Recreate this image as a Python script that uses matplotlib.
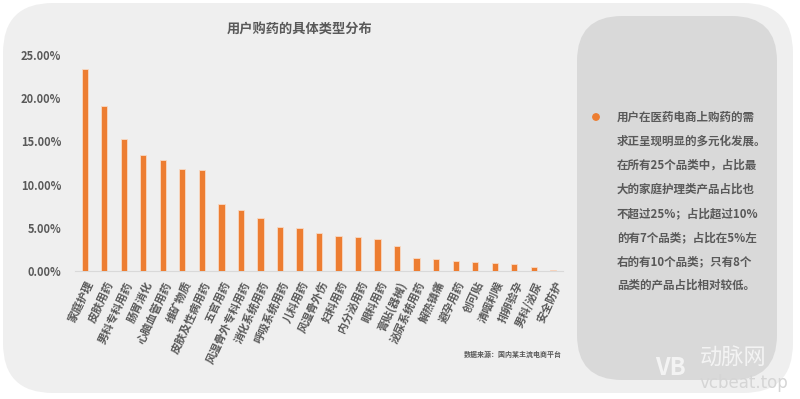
import matplotlib.pyplot as plt
from matplotlib.patches import FancyBboxPatch, Ellipse
from matplotlib.ticker import FuncFormatter

plt.rcParams['font.family'] = ['Noto Sans CJK SC', 'DejaVu Sans']

# Data
categories = ['家庭护理', '皮肤用药', '男科专科用药', '肠胃消化', '心脑血管用药', '维矿物质',
              '皮肤及性病用药', '五官用药', '风湿骨外专科用药', '消化系统用药', '呼吸系统用药',
              '儿科用药', '风湿骨外伤', '妇科用药', '内分泌用药', '眼科用药', '膏贴(器械)',
              '泌尿系统用药', '解热镇痛', '避孕用药', '创可贴', '清咽利喉', '排卵验孕',
              '男科/泌尿', '安全防护']
shares = [23.4, 19.1, 15.3, 13.4, 12.9, 11.8, 11.65, 7.7, 7.1, 6.1, 5.1, 5.0, 4.45,
          4.0, 3.9, 3.7, 2.86, 1.5, 1.43, 1.2, 1.04, 0.97, 0.86, 0.46, 0.12]
yticks = [0, 5, 10, 15, 20, 25]
note_lines = ['用户在医药电商上购药的需', '求正呈现明显的多元化发展。', '在所有25个品类中，占比最',
              '大的家庭护理类产品占比也', '不超过25%；占比超过10%', '的有7个品类；占比在5%左',
              '右的有10个品类；只有8个', '品类的产品占比相对较低。']

TEXT = '#595959'
ORANGE = '#ed7d31'

fig = plt.figure(figsize=(8, 3.99), dpi=100)
fig.patch.set_facecolor('white')

# background panels (figure pixel coords)
W, H = 800, 399
def panel(x0, y0, x1, y1, r, color):
    p = FancyBboxPatch((x0 / W, 1 - y1 / H), (x1 - x0) / W, (y1 - y0) / H,
                       boxstyle='round,pad=0,rounding_size=%f' % (r / W),
                       transform=fig.transFigure, facecolor=color, edgecolor='none',
                       mutation_aspect=W / H, zorder=-2)
    fig.patches.append(p)

panel(3, 3, 793, 393, 50, '#efefef')
panel(577, 16, 777, 380, 45, '#d9d9d9')

ax = fig.add_axes([75 / W, 1 - 271 / H, 488 / W, 216 / H])
ax.set_facecolor('none')
x = range(len(categories))
ax.bar(x, shares, width=0.32, color=ORANGE, edgecolor='#f8d9c4', linewidth=0.6, zorder=3)

ax.set_xlim(-0.5, len(categories) - 0.5)
ax.set_ylim(0, 25)
ax.set_yticks(yticks)
ax.yaxis.set_major_formatter(FuncFormatter(lambda v, p: '%.2f%%' % v))
ax.set_xticks(list(x))
ax.set_xticklabels(categories, rotation=65, ha='right', va='top', rotation_mode='anchor')
for lab in ax.get_xticklabels():
    lab.set_fontsize(8)
    lab.set_fontweight('bold')
    lab.set_color(TEXT)
for lab in ax.get_yticklabels():
    lab.set_fontsize(8)
    lab.set_fontweight('bold')
    lab.set_color(TEXT)
ax.tick_params(axis='both', length=0)
ax.tick_params(axis='y', pad=10)
ax.tick_params(axis='x', pad=6)
for s in ['top', 'right', 'left']:
    ax.spines[s].set_visible(False)
ax.spines['bottom'].set_color('#d9d9d9')

fig.text(300 / W, 1 - 30 / H, '用户购药的具体类型分布', ha='center', va='center',
         fontsize=9.5, fontweight='bold', color=TEXT)

fig.text(513 / W, 1 - 354 / H, '数据来源：国内某主流电商平台', ha='center', va='center',
         fontsize=5, fontweight='bold', color=TEXT)

# note in right panel
fig.patches.append(Ellipse((596 / W, 1 - 117 / H), 6.4 / W, 6.4 / H,
                           transform=fig.transFigure, color=ORANGE, zorder=2))
for i, line in enumerate(note_lines):
    fig.text(617 / W, 1 - (117 + 24.1 * i) / H, line, ha='left', va='center',
             fontsize=8.3, fontweight='heavy', color=TEXT)

# watermark
fig.text(655 / W, 1 - 368 / H, 'VB', ha='left', va='center', fontsize=17,
         fontweight='bold', color='white', alpha=0.7)
fig.text(700 / W, 1 - 358 / H, '动脉网', ha='left', va='center', fontsize=16,
         color='white', alpha=0.7)
fig.text(700 / W, 1 - 383 / H, 'vcbeat.top', ha='left', va='center', fontsize=12,
         color='#d5d5d5', family='DejaVu Sans')

fig.savefig('out.png', dpi=100, facecolor='white')
